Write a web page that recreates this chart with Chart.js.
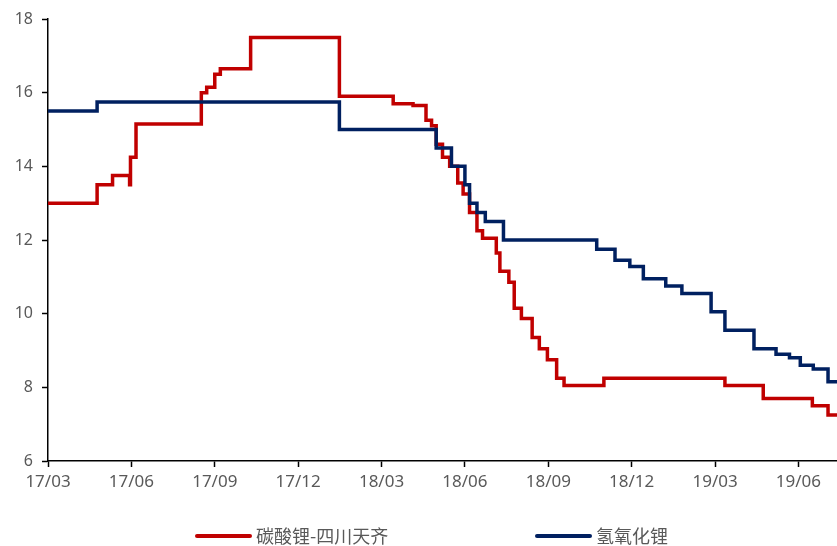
<!DOCTYPE html>
<html>
<head>
<meta charset="utf-8">
<script src="https://cdn.jsdelivr.net/npm/chart.js@4.4.1/dist/chart.umd.min.js"></script>
<style>
  html, body { margin: 0; padding: 0; background: #ffffff; }
  #wrap { position: relative; width: 837px; height: 546px; }
</style>
</head>
<body>
<div id="wrap"><canvas id="c" width="837" height="546"></canvas></div>
<script>
// Price change dates (each value holds until the next date) and prices, 万元/吨
const carbonateDates = [
  "2017-03-01", "2017-04-24", "2017-05-11", "2017-05-30", "2017-05-31", "2017-06-06",
  "2017-08-17", "2017-08-23", "2017-09-01", "2017-09-07", "2017-10-10", "2018-01-16",
  "2018-03-14", "2018-04-05", "2018-04-19", "2018-04-25", "2018-04-30", "2018-05-07",
  "2018-05-15", "2018-05-24", "2018-05-30", "2018-06-06", "2018-06-14", "2018-06-20",
  "2018-07-05", "2018-07-09", "2018-07-19", "2018-07-25", "2018-08-02", "2018-08-14",
  "2018-08-22", "2018-08-31", "2018-09-10", "2018-09-18", "2018-11-01", "2019-03-12",
  "2019-04-23", "2019-06-16", "2019-07-03", "2019-07-13"
];
const carbonatePrices = [
  13.0, 13.5, 13.75, 13.5, 14.25, 15.15,
  16.0, 16.15, 16.5, 16.65, 17.5, 15.9,
  15.7, 15.65, 15.25, 15.1, 14.6, 14.25,
  14.0, 13.55, 13.25, 12.75, 12.25, 12.05,
  11.65, 11.15, 10.85, 10.15, 9.87, 9.35,
  9.05, 8.75, 8.25, 8.05, 8.25, 8.05,
  7.7, 7.5, 7.25, 7.25
];

const hydroxideDates = [
  "2017-03-01", "2017-04-24", "2018-01-16", "2018-04-30", "2018-05-17", "2018-06-01",
  "2018-06-06", "2018-06-14", "2018-06-23", "2018-07-13", "2018-10-24", "2018-11-13",
  "2018-11-29", "2018-12-14", "2019-01-08", "2019-01-26", "2019-02-25", "2019-03-12",
  "2019-04-13", "2019-05-07", "2019-05-22", "2019-06-03", "2019-06-17", "2019-07-03",
  "2019-07-13"
];
const hydroxidePrices = [
  15.5, 15.75, 15.0, 14.5, 14.0, 13.5,
  13.0, 12.75, 12.5, 12.0, 11.75, 11.45,
  11.28, 10.95, 10.75, 10.55, 10.05, 9.55,
  9.05, 8.9, 8.8, 8.6, 8.5, 8.15,
  8.15
];

const seriesNames = ["碳酸锂-四川天齐", "氢氧化锂"];
const axisStart = { year: 2017, month: 3 };
const axisEnd = "2019-07-13";

// Convert a date string to fractional months since the axis start
function monthIndex(s) {
  const [y, m, d] = s.split("-").map(Number);
  const days = new Date(y, m, 0).getDate();
  return (y - axisStart.year) * 12 + (m - axisStart.month) + (d - 1) / days;
}
function toPoints(dates, values) {
  return dates.map((s, i) => ({ x: monthIndex(s), y: values[i] }));
}
function tickLabel(v) {
  const total = axisStart.month - 1 + Math.round(v);
  const y = axisStart.year + Math.floor(total / 12);
  const m = (total % 12) + 1;
  return String(y % 100).padStart(2, "0") + "/" + String(m).padStart(2, "0");
}

const fontFamily = "'Noto Sans', 'Noto Sans CJK SC', sans-serif";
const labelGray = "#595959";

// Legend drawn as two widely spaced entries under the axis
const spacedLegend = {
  id: "spacedLegend",
  afterDraw(chart, args, opts) {
    const ctx = chart.ctx;
    ctx.save();
    ctx.font = "18px 'Noto Sans CJK SC', 'Noto Sans', sans-serif";
    ctx.textBaseline = "middle";
    ctx.textAlign = "left";
    opts.order.forEach((di, i) => {
      const ds = chart.data.datasets[di];
      const x = opts.starts[i];
      const y = opts.y;
      ctx.strokeStyle = ds.borderColor;
      ctx.lineWidth = 4;
      ctx.lineCap = "round";
      ctx.beginPath();
      ctx.moveTo(x, y);
      ctx.lineTo(x + opts.lineLength, y);
      ctx.stroke();
      ctx.fillStyle = labelGray;
      ctx.fillText(ds.label, x + opts.lineLength + 6, y);
    });
    ctx.restore();
  }
};

new Chart(document.getElementById("c"), {
  type: "line",
  data: {
    datasets: [
      {
        label: seriesNames[0],
        data: toPoints(carbonateDates, carbonatePrices),
        borderColor: "#C00000",
        backgroundColor: "#C00000",
        borderWidth: 3.5,
        stepped: true,
        pointRadius: 0,
        fill: false,
        order: 1
      },
      {
        label: seriesNames[1],
        data: toPoints(hydroxideDates, hydroxidePrices),
        borderColor: "#002060",
        backgroundColor: "#002060",
        borderWidth: 3.5,
        stepped: true,
        pointRadius: 0,
        fill: false,
        order: 0
      }
    ]
  },
  options: {
    responsive: false,
    animation: false,
    layout: { padding: { top: 19, right: 0, bottom: 50, left: 0 } },
    plugins: {
      legend: { display: false },
      tooltip: { enabled: false },
      spacedLegend: { order: [0, 1], starts: [197, 537], y: 536, lineLength: 53 }
    },
    scales: {
      x: {
        type: "linear",
        min: 0,
        max: monthIndex(axisEnd),
        afterFit(scale) { scale.height = 35; },
        ticks: {
          stepSize: 3,
          autoSkip: false,
          maxRotation: 0,
          padding: 5,
          color: labelGray,
          font: { family: fontFamily, size: 17 },
          callback: (v) => tickLabel(v)
        },
        afterBuildTicks(scale) {
          const t = [];
          for (let v = 0; v <= scale.max; v += 3) t.push({ value: v });
          scale.ticks = t;
        },
        grid: {
          drawOnChartArea: false,
          drawTicks: true,
          tickLength: 6,
          tickColor: "#000000",
          tickWidth: 1.5
        },
        border: { display: true, color: "#000000", width: 1.5 }
      },
      y: {
        min: 6,
        max: 18,
        afterFit(scale) { scale.width = 48; },
        ticks: {
          stepSize: 2,
          padding: 9,
          color: labelGray,
          font: { family: fontFamily, size: 16 }
        },
        grid: {
          drawOnChartArea: false,
          drawTicks: true,
          tickLength: 6,
          tickColor: "#000000",
          tickWidth: 1.5
        },
        border: { display: true, color: "#000000", width: 1.5 }
      }
    }
  },
  plugins: [spacedLegend]
});
</script>
</body>
</html>
